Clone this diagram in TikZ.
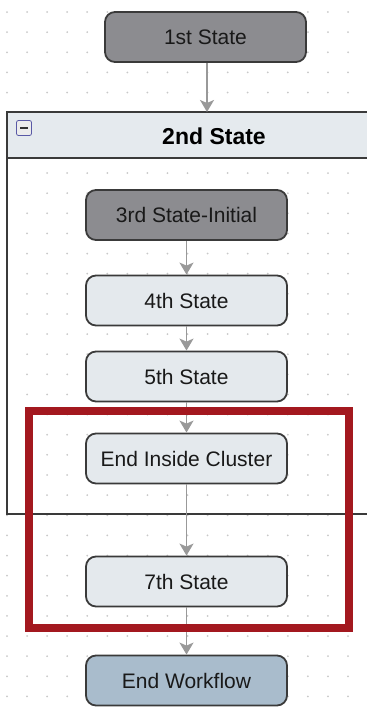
\documentclass[tikz,border=0pt]{standalone}
\usepackage{fontspec}
\setmainfont{Liberation Sans}
\usetikzlibrary{arrows.meta}
\definecolor{darkfill}{HTML}{8C8C90}
\definecolor{lightfill}{HTML}{E4E9ED}
\definecolor{endfill}{HTML}{A9BCCC}
\definecolor{bordercol}{HTML}{3A3A3A}
\definecolor{arrowcol}{HTML}{999999}
\definecolor{hdrfill}{HTML}{E5EAEE}
\definecolor{redcol}{HTML}{A3181F}
\definecolor{dotcol}{HTML}{C8C8C8}
\tikzset{
  statebox/.style={draw=bordercol, line width=1.8pt, rounded corners=10pt,
    minimum width=201pt, minimum height=50pt, inner sep=0pt, text=black!90,
    font=\fontsize{21}{25}\selectfont},
  darkstate/.style={statebox, fill=darkfill},
  lightstate/.style={statebox, fill=lightfill},
  endstate/.style={statebox, fill=endfill},
  flow/.style={draw=arrowcol, line width=1.6pt, -{Stealth[width=14pt,length=12pt,inset=3pt]}}
}
\begin{document}
\begin{tikzpicture}[x=1pt,y=-1pt]
\useasboundingbox (0,0) rectangle (367,713);
\clip (0,0) rectangle (367,713);
% dot grid
\foreach \i in {0,...,17} {
  \foreach \j in {0,...,34} {
    \fill[dotcol] ({7+20.06*\i},{12+20.13*\j}) circle (1pt);
  }
}
% cluster
\draw[bordercol, line width=1.8pt, fill=hdrfill] (7,112) rectangle (368,158);
\draw[bordercol, line width=1.8pt] (7,158) -- (7,514) -- (368,514);
\node (cl) at (214,136) {\fontsize{23}{27}\selectfont\bfseries 2nd State};
\node[draw=gray!70!blue, line width=0.8pt, fill=white!85!gray, rounded corners=2pt,
  minimum size=15pt, inner sep=0pt] (tog) at (24,128) {};
\draw[black!80, line width=1.8pt] ([xshift=-4pt]tog.center) -- ([xshift=4pt]tog.center);
\coordinate (cltop) at (207,112);
% nodes
\node[darkstate] (s1) at (205.5,37) {1st State};
\node[darkstate] (s3) at (186.5,215) {3rd State-Initial};
\node[lightstate] (s4) at (186.5,300.5) {4th State};
\node[lightstate] (s5) at (186.5,376.5) {5th State};
\node[lightstate] (s6) at (186.5,458.5) {End Inside Cluster};
\node[lightstate] (s7) at (186.5,581.5) {7th State};
\node[endstate] (s8) at (186.5,680.5) {End Workflow};
% connectors
\draw[flow] (s1.south) ++(1.5,0) -- (cltop);
\draw[flow] (s3) -- (s4);
\draw[flow] (s4) -- (s5);
\draw[flow] (s5) -- (s6);
\draw[flow] (s6) -- (s7);
\draw[flow] (s7) -- (s8);
% highlight
\draw[redcol, line width=8pt] (29,411) rectangle (349,628);
\end{tikzpicture}
\end{document}
